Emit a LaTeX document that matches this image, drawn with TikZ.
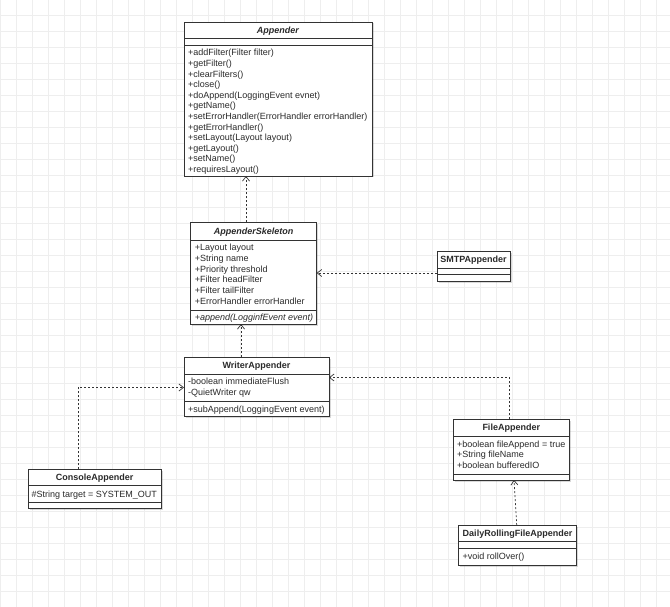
\documentclass[tikz,border=0pt]{standalone}
\usepackage{fontspec}
\setmainfont{Liberation Sans}
\usetikzlibrary{arrows.meta,shadows}
\definecolor{gridc}{HTML}{EEEEEE}
\definecolor{linec}{HTML}{333333}
\definecolor{textc}{HTML}{2A2A2A}
\begin{document}
\begin{tikzpicture}[x=1pt,y=-1pt,
  cls/.style={draw=linec, line width=0.8pt, fill=white, inner sep=0pt, outer sep=0pt, anchor=north west,
    drop shadow={shadow xshift=1.5pt, shadow yshift=-1.5pt, fill=black, opacity=0.15}},
  sepline/.style={draw=linec, line width=0.8pt},
  ttl/.style={inner sep=0pt, font=\fontsize{9}{10}\selectfont\bfseries, text=textc, text height=8.4pt, text depth=2pt},
  txt/.style={inner sep=0pt, anchor=west, font=\fontsize{9}{10}\selectfont, text=textc, text height=8.4pt, text depth=2pt},
  dep/.style={draw=linec, line width=0.7pt, dash pattern=on 2pt off 2pt, -{Straight Barb[length=4.5pt,width=7pt]}},
  gridline/.style={draw=gridc, line width=0.8pt}]
\useasboundingbox (0,0) rectangle (670,607);
\fill[white] (0,0) rectangle (670,607);
\foreach \x in {0,16,...,656} {\draw[gridline] (\x,0) -- (\x,607);}
\foreach \y in {15,31,...,599} {\draw[gridline] (0,\y) -- (670,\y);}

% Appender
\node[cls, minimum width=188pt, minimum height=154pt] (app) at (184,22) {};
\draw[sepline] (184,38) -- (372,38);
\draw[sepline] (184,45) -- (372,45);
\node[ttl] (appt) at (278,30) {\textit{Appender}};
\foreach \t [count=\i from 0] in {{+addFilter(Filter filter)},{+getFilter()},{+clearFilters()},{+close()},{+doAppend(LoggingEvent evnet)},{+getName()},{+setErrorHandler(ErrorHandler errorHandler)},{+getErrorHandler()},{+setLayout(Layout layout)},{+getLayout()},{+setName()},{+requiresLayout()}}
  {\node[txt] (appm\i) at (188,52.7+10.6*\i) {\t};}

% AppenderSkeleton
\node[cls, minimum width=126pt, minimum height=101.5pt] (skel) at (190.7,222.5) {};
\draw[sepline] (190.7,240) -- (316.7,240);
\draw[sepline] (190.7,310.7) -- (316.7,310.7);
\node[ttl] (skelt) at (253.7,231.2) {\textit{AppenderSkeleton}};
\foreach \t [count=\i from 0] in {{+Layout layout},{+String name},{+Priority threshold},{+Filter headFilter},{+Filter tailFilter},{+ErrorHandler errorHandler}}
  {\node[txt] (skela\i) at (194.7,247.7+10.67*\i) {\t};}
\node[txt] (skelm) at (194.7,316.9) {\textit{+append(LogginfEvent event)}};

% SMTPAppender
\node[cls, minimum width=73pt, minimum height=30pt] (smtp) at (437,251) {};
\draw[sepline] (437,268) -- (510,268);
\draw[sepline] (437,274.5) -- (510,274.5);
\node[ttl] (smtpt) at (473.5,259.5) {SMTPAppender};

% WriterAppender
\node[cls, minimum width=145pt, minimum height=59.7pt] (wa) at (184,357) {};
\draw[sepline] (184,374) -- (329,374);
\draw[sepline] (184,401.7) -- (329,401.7);
\node[ttl] (wat) at (256.5,365.5) {WriterAppender};
\node[txt] (wa1) at (188,381.5) {-boolean immediateFlush};
\node[txt] (wa2) at (188,392.1) {-QuietWriter qw};
\node[txt] (wam) at (188,409.2) {+subAppend(LoggingEvent event)};

% ConsoleAppender
\node[cls, minimum width=133.4pt, minimum height=39.4pt] (con) at (28,469.3) {};
\draw[sepline] (28,485.3) -- (161.4,485.3);
\draw[sepline] (28,502.7) -- (161.4,502.7);
\node[ttl] (cont) at (94.7,477.3) {ConsoleAppender};
\node[txt] (con1) at (31.5,494) {\#String target = SYSTEM\_OUT};

% FileAppender
\node[cls, minimum width=116.1pt, minimum height=61pt] (fa) at (453.2,419) {};
\draw[sepline] (453.2,436) -- (569.3,436);
\draw[sepline] (453.2,474) -- (569.3,474);
\node[ttl] (fat) at (511.25,427.6) {FileAppender};
\node[txt] (fa1) at (457,444) {+boolean fileAppend = true};
\node[txt] (fa2) at (457,454.6) {+String fileName};
\node[txt] (fa3) at (457,465.2) {+boolean bufferedIO};

% DailyRollingFileAppender
\node[cls, minimum width=117.8pt, minimum height=40pt] (drfa) at (458.6,525) {};
\draw[sepline] (458.6,541.7) -- (576.4,541.7);
\draw[sepline] (458.6,548.3) -- (576.4,548.3);
\node[ttl] (drfat) at (517.5,533.5) {DailyRollingFileAppender};
\node[txt] (drfam) at (462.5,556.7) {+void rollOver()};

% connector coordinates
\coordinate (cx1) at (246,0);
\coordinate (cx2) at (241,0);
\coordinate (cy3) at (0,273);
\coordinate (k1) at (78.2,387.5);
\coordinate (k2) at (509.3,377.5);
\coordinate (cx5) at (516.7,0);
\coordinate (cx6) at (514,0);

\draw[dep] (skel.north -| cx1) -- (app.south -| cx1);
\draw[dep] (wa.north -| cx2) -- (skel.south -| cx2);
\draw[dep] (smtp.west |- cy3) -- (skel.east |- cy3);
\draw[dep] (con.north -| k1) -- (k1) -- (wa.west |- k1);
\draw[dep] (fa.north -| k2) -- (k2) -- (wa.east |- k2);
\draw[dep] (drfa.north -| cx5) -- (fa.south -| cx6);
\end{tikzpicture}
\end{document}
